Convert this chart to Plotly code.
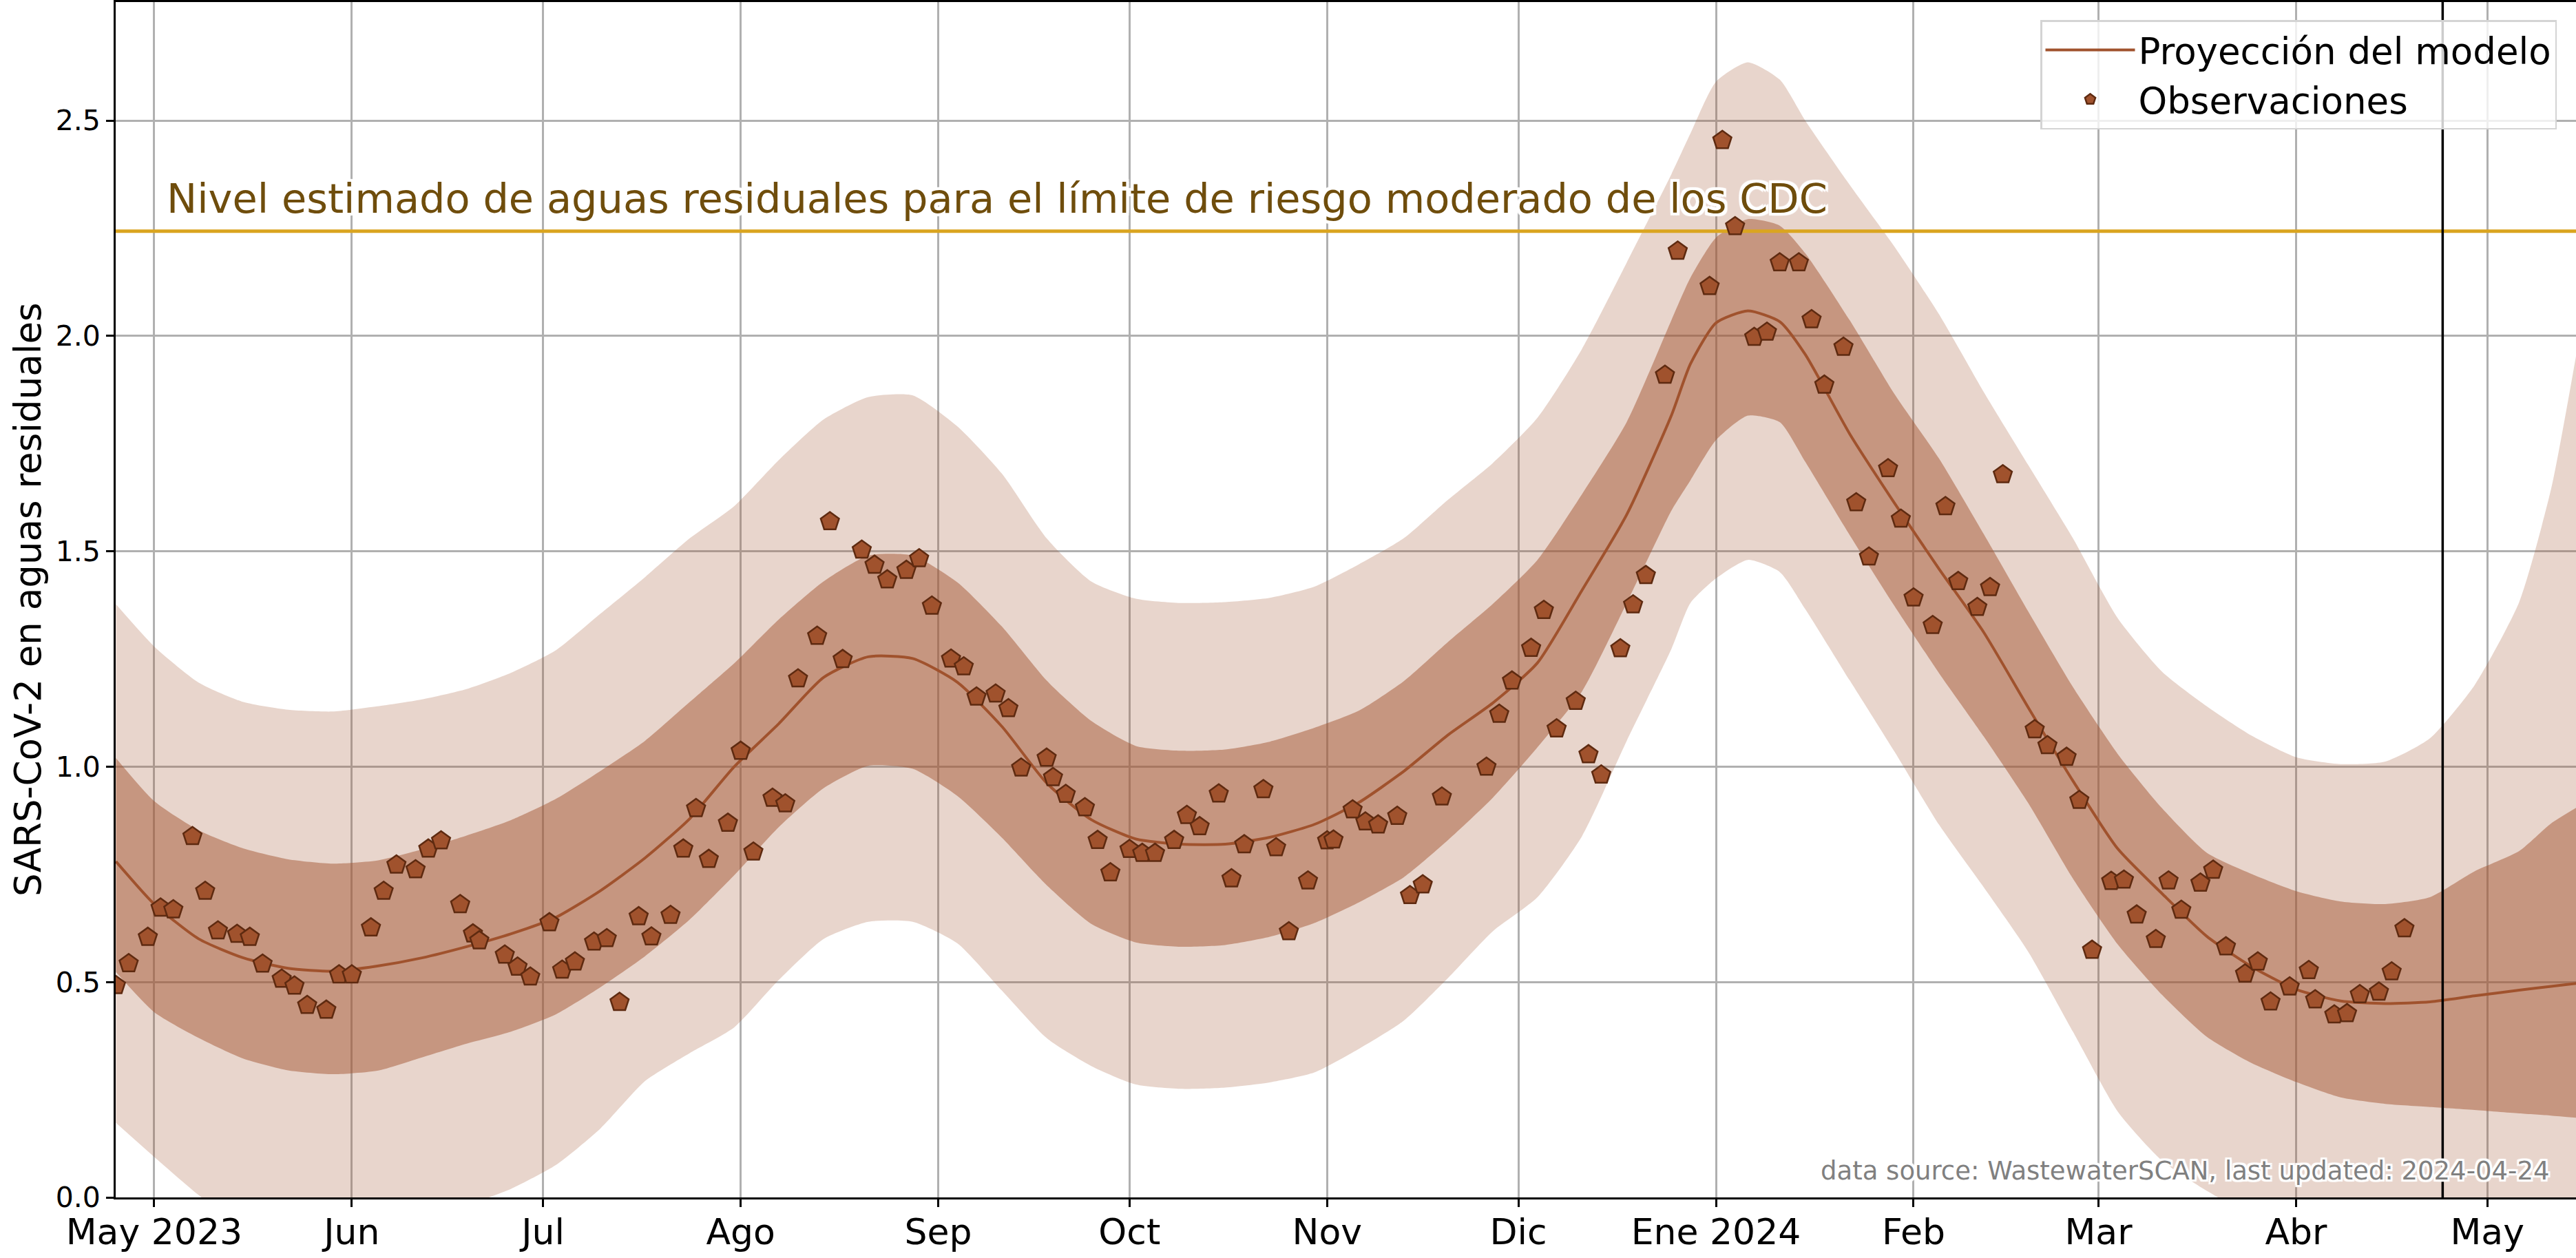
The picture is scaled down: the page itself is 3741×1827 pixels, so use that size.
import plotly.graph_objects as go

# ---------------- data ----------------
model_dates = [
    "2023-04-25", "2023-05-01", "2023-05-08", "2023-05-15", "2023-05-22", "2023-05-29",
    "2023-06-05", "2023-06-12", "2023-06-19", "2023-06-26", "2023-07-03", "2023-07-10",
    "2023-07-17", "2023-07-24", "2023-07-31", "2023-08-07", "2023-08-14", "2023-08-21",
    "2023-08-28", "2023-09-04", "2023-09-11", "2023-09-18", "2023-09-25", "2023-10-02",
    "2023-10-09", "2023-10-16", "2023-10-23", "2023-10-30", "2023-11-06", "2023-11-13",
    "2023-11-20", "2023-11-27", "2023-12-04", "2023-12-11", "2023-12-18", "2023-12-25",
    "2023-12-28", "2024-01-01", "2024-01-06", "2024-01-11", "2024-01-15", "2024-01-22",
    "2024-01-29", "2024-02-05", "2024-02-12", "2024-02-19", "2024-02-26", "2024-03-04",
    "2024-03-11", "2024-03-18", "2024-03-25", "2024-04-01", "2024-04-08", "2024-04-15",
    "2024-04-22", "2024-04-29", "2024-05-06", "2024-05-11", "2024-05-15",
]
model_median = [
    0.780, 0.681, 0.600, 0.556, 0.532, 0.525,
    0.537, 0.556, 0.582, 0.612, 0.650, 0.712,
    0.788, 0.879, 1.000, 1.100, 1.207, 1.255,
    1.251, 1.196, 1.093, 0.962, 0.877, 0.832,
    0.820, 0.820, 0.836, 0.866, 0.917, 0.989,
    1.074, 1.148, 1.241, 1.410, 1.585, 1.815,
    1.935, 2.030, 2.058, 2.033, 1.957, 1.772,
    1.612, 1.459, 1.312, 1.137, 0.967, 0.810,
    0.705, 0.606, 0.536, 0.483, 0.456, 0.450,
    0.454, 0.468, 0.481, 0.490, 0.497,
]
inner_hi = [
    1.020, 0.920, 0.852, 0.810, 0.785, 0.775,
    0.782, 0.808, 0.840, 0.876, 0.925, 0.990,
    1.060, 1.150, 1.240, 1.342, 1.430, 1.490,
    1.490, 1.428, 1.325, 1.200, 1.106, 1.048,
    1.037, 1.040, 1.058, 1.090, 1.130, 1.198,
    1.290, 1.378, 1.480, 1.633, 1.800, 2.036,
    2.135, 2.228, 2.271, 2.256, 2.192, 2.036,
    1.865, 1.715, 1.540, 1.360, 1.185, 1.030,
    0.903, 0.800, 0.751, 0.711, 0.687, 0.681,
    0.697, 0.757, 0.804, 0.868, 0.905,
]
inner_lo = [
    0.523, 0.430, 0.370, 0.322, 0.295, 0.286,
    0.294, 0.325, 0.357, 0.385, 0.425, 0.488,
    0.560, 0.645, 0.748, 0.860, 0.950, 1.002,
    0.995, 0.932, 0.835, 0.725, 0.635, 0.592,
    0.582, 0.586, 0.605, 0.637, 0.685, 0.743,
    0.830, 0.928, 1.045, 1.175, 1.380, 1.594,
    1.665, 1.758, 1.815, 1.800, 1.708, 1.537,
    1.373, 1.217, 1.070, 0.915, 0.740, 0.588,
    0.470, 0.373, 0.312, 0.268, 0.232, 0.217,
    0.210, 0.203, 0.195, 0.190, 0.185,
]
outer_hi = [
    1.377, 1.279, 1.195, 1.150, 1.132, 1.128,
    1.140, 1.156, 1.180, 1.218, 1.270, 1.355,
    1.440, 1.530, 1.605, 1.712, 1.806, 1.858,
    1.862, 1.790, 1.680, 1.530, 1.430, 1.390,
    1.380, 1.382, 1.392, 1.418, 1.470, 1.530,
    1.620, 1.705, 1.810, 1.970, 2.170, 2.375,
    2.470, 2.590, 2.635, 2.595, 2.500, 2.350,
    2.207, 2.050, 1.870, 1.700, 1.530, 1.345,
    1.220, 1.140, 1.072, 1.022, 1.006, 1.012,
    1.066, 1.189, 1.382, 1.644, 1.960,
]
outer_lo = [
    0.173, 0.094, 0.005, -0.070, -0.110, -0.125,
    -0.110, -0.075, -0.020, 0.020, 0.075, 0.160,
    0.270, 0.335, 0.395, 0.505, 0.600, 0.640,
    0.640, 0.590, 0.480, 0.370, 0.305, 0.262,
    0.252, 0.255, 0.267, 0.290, 0.345, 0.410,
    0.510, 0.618, 0.697, 0.839, 1.060, 1.273,
    1.380, 1.437, 1.480, 1.452, 1.366, 1.200,
    1.035, 0.865, 0.720, 0.570, 0.385, 0.200,
    0.085, 0.015, -0.040, -0.070, -0.090, -0.100,
    -0.110, -0.120, -0.130, -0.140, -0.150,
]

obs_dates = [
    "2023-04-25", "2023-04-27", "2023-04-30", "2023-05-02", "2023-05-04", "2023-05-07",
    "2023-05-09", "2023-05-11", "2023-05-14", "2023-05-16", "2023-05-18", "2023-05-21",
    "2023-05-23", "2023-05-25", "2023-05-28", "2023-05-30", "2023-06-01", "2023-06-04",
    "2023-06-06", "2023-06-08", "2023-06-11", "2023-06-13", "2023-06-15", "2023-06-18",
    "2023-06-20", "2023-06-21", "2023-06-25", "2023-06-27", "2023-06-29", "2023-07-02",
    "2023-07-04", "2023-07-06", "2023-07-09", "2023-07-11", "2023-07-13", "2023-07-16",
    "2023-07-18", "2023-07-21", "2023-07-23", "2023-07-25", "2023-07-27", "2023-07-30",
    "2023-08-01", "2023-08-03", "2023-08-06", "2023-08-08", "2023-08-10", "2023-08-13",
    "2023-08-15", "2023-08-17", "2023-08-20", "2023-08-22", "2023-08-24", "2023-08-27",
    "2023-08-29", "2023-08-31", "2023-09-03", "2023-09-05", "2023-09-07", "2023-09-10",
    "2023-09-12", "2023-09-14", "2023-09-18", "2023-09-19", "2023-09-21", "2023-09-24",
    "2023-09-26", "2023-09-28", "2023-10-01", "2023-10-03", "2023-10-05", "2023-10-08",
    "2023-10-10", "2023-10-12", "2023-10-15", "2023-10-17", "2023-10-19", "2023-10-22",
    "2023-10-24", "2023-10-26", "2023-10-29", "2023-11-01", "2023-11-02", "2023-11-05",
    "2023-11-07", "2023-11-09", "2023-11-12", "2023-11-14", "2023-11-16", "2023-11-19",
    "2023-11-26", "2023-11-28", "2023-11-30", "2023-12-03", "2023-12-05", "2023-12-07",
    "2023-12-10", "2023-12-12", "2023-12-14", "2023-12-17", "2023-12-19", "2023-12-21",
    "2023-12-24", "2023-12-26", "2023-12-31", "2024-01-02", "2024-01-04", "2024-01-07",
    "2024-01-09", "2024-01-11", "2024-01-14", "2024-01-16", "2024-01-18", "2024-01-21",
    "2024-01-23", "2024-01-25", "2024-01-28", "2024-01-30", "2024-02-01", "2024-02-04",
    "2024-02-06", "2024-02-08", "2024-02-11", "2024-02-13", "2024-02-15", "2024-02-20",
    "2024-02-22", "2024-02-25", "2024-02-27", "2024-02-29", "2024-03-03", "2024-03-05",
    "2024-03-07", "2024-03-10", "2024-03-12", "2024-03-14", "2024-03-17", "2024-03-19",
    "2024-03-21", "2024-03-24", "2024-03-26", "2024-03-28", "2024-03-31", "2024-04-03",
    "2024-04-04", "2024-04-07", "2024-04-09", "2024-04-11", "2024-04-14", "2024-04-16",
    "2024-04-18",
]
obs_values = [
    0.492, 0.543, 0.604, 0.672, 0.668, 0.838,
    0.711, 0.619, 0.611, 0.604, 0.542, 0.507,
    0.491, 0.446, 0.435, 0.517, 0.517, 0.626,
    0.711, 0.772, 0.761, 0.809, 0.828, 0.680,
    0.612, 0.596, 0.563, 0.535, 0.512, 0.638,
    0.528, 0.547, 0.593, 0.601, 0.453, 0.652,
    0.605, 0.655, 0.809, 0.903, 0.785, 0.869,
    1.036, 0.802, 0.927, 0.914, 1.204, 1.303,
    1.569, 1.249, 1.503, 1.468, 1.434, 1.456,
    1.483, 1.373, 1.250, 1.232, 1.162, 1.169,
    1.135, 0.997, 1.020, 0.975, 0.936, 0.905,
    0.829, 0.754, 0.808, 0.799, 0.799, 0.829,
    0.887, 0.861, 0.937, 0.740, 0.819, 0.947,
    0.812, 0.617, 0.735, 0.828, 0.830, 0.900,
    0.872, 0.865, 0.885, 0.701, 0.726, 0.930,
    0.999, 1.122, 1.199, 1.275, 1.363, 1.088,
    1.152, 1.028, 0.981, 1.274, 1.376, 1.444,
    1.909, 2.197, 2.115, 2.454, 2.254, 1.997,
    2.009, 2.170, 2.170, 2.038, 1.886, 1.974,
    1.613, 1.487, 1.692, 1.575, 1.392, 1.328,
    1.604, 1.430, 1.370, 1.416, 1.678, 1.086,
    1.049, 1.022, 0.922, 0.574, 0.734, 0.737,
    0.656, 0.599, 0.735, 0.667, 0.730, 0.760,
    0.582, 0.519, 0.547, 0.454, 0.489, 0.527,
    0.459, 0.424, 0.427, 0.471, 0.477, 0.524,
    0.624,
]

threshold_value = 2.243
forecast_date = "2024-04-24"
x_range = ["2023-04-24 23:00", "2024-05-14 22:00"]
y_range = [0, 2.775]

x_tick_dates = [
    "2023-05-01", "2023-06-01", "2023-07-01", "2023-08-01", "2023-09-01", "2023-10-01",
    "2023-11-01", "2023-12-01", "2024-01-01", "2024-02-01", "2024-03-01", "2024-04-01",
    "2024-05-01",
]
x_tick_labels = ["May 2023", "Jun", "Jul", "Ago", "Sep", "Oct", "Nov", "Dic",
                 "Ene 2024", "Feb", "Mar", "Abr", "May"]
y_tick_values = [0.0, 0.5, 1.0, 1.5, 2.0, 2.5]
y_tick_labels = ["0.0", "0.5", "1.0", "1.5", "2.0", "2.5"]

threshold_text = "Nivel estimado de aguas residuales para el límite de riesgo moderado de los CDC"
source_text = "data source: WastewaterSCAN, last updated: 2024-04-24"
y_title = "SARS-CoV-2 en aguas residuales"

# ---------------- styling ----------------
FONT = "DejaVu Sans"
SIENNA = "#a0522d"
EDGE = "#5e2a10"
W, H = 3741, 1827
ML, MR, MT, MB = 168, 0, 3, 88
PW = W - ML - MR
PH = H - MT - MB


def halo(px, color="white"):
    offs = [(px, 0), (-px, 0), (0, px), (0, -px), (px, px), (-px, -px), (px, -px), (-px, px)]
    return ", ".join(f"{color} {a}px {b}px 1px" for a, b in offs)


fig = go.Figure()

# outer band
fig.add_trace(go.Scatter(x=model_dates, y=outer_lo, mode="lines",
                         line=dict(width=0, shape="spline", smoothing=0.6),
                         showlegend=False, hoverinfo="skip"))
fig.add_trace(go.Scatter(x=model_dates, y=outer_hi, mode="lines",
                         line=dict(width=0, shape="spline", smoothing=0.6),
                         fill="tonexty", fillcolor="rgba(160,82,45,0.245)",
                         showlegend=False, hoverinfo="skip"))
# inner band
fig.add_trace(go.Scatter(x=model_dates, y=inner_lo, mode="lines",
                         line=dict(width=0, shape="spline", smoothing=0.6),
                         showlegend=False, hoverinfo="skip"))
fig.add_trace(go.Scatter(x=model_dates, y=inner_hi, mode="lines",
                         line=dict(width=0, shape="spline", smoothing=0.6),
                         fill="tonexty", fillcolor="rgba(160,82,45,0.48)",
                         showlegend=False, hoverinfo="skip"))
# median projection
fig.add_trace(go.Scatter(x=model_dates, y=model_median, mode="lines",
                         line=dict(color=SIENNA, width=4, shape="spline", smoothing=0.6),
                         name="Proyección del modelo"))
# threshold line
fig.add_trace(go.Scatter(x=x_range, y=[threshold_value, threshold_value], mode="lines",
                         line=dict(color="#daa520", width=5),
                         showlegend=False, hoverinfo="skip"))
# observations
fig.add_trace(go.Scatter(x=obs_dates, y=obs_values, mode="markers",
                         marker=dict(symbol="pentagon", size=28, color=SIENNA,
                                     line=dict(color=EDGE, width=2.5)),
                         name="Observaciones"))

# forecast date line
fig.add_shape(type="line", xref="x", yref="paper", x0=forecast_date, x1=forecast_date,
              y0=0, y1=1, line=dict(color="black", width=3.5), layer="above")

fig.add_annotation(xref="paper", yref="y", x=(240 - ML) / PW, y=2.318,
                   xanchor="left", yanchor="middle", showarrow=False,
                   text=threshold_text,
                   font=dict(family=FONT, size=59, color="#6f4d0c", shadow=halo(4)))
fig.add_annotation(xref="paper", yref="y", x=(3705 - ML) / PW, y=0.061,
                   xanchor="right", yanchor="middle", showarrow=False,
                   text=source_text,
                   font=dict(family=FONT, size=37, color="#808080", shadow=halo(3)))
fig.add_annotation(xref="paper", yref="paper", x=(40 - ML) / PW, y=0.5,
                   xanchor="center", yanchor="middle", showarrow=False, textangle=-90,
                   text=y_title, font=dict(family=FONT, size=53, color="black"))

axis_common = dict(showgrid=True, gridcolor="#b0b0b0", gridwidth=2.5,
                   showline=True, linecolor="black", linewidth=2.7,
                   ticks="outside", ticklen=11, tickwidth=2.7, tickcolor="black",
                   zeroline=False, automargin=False)

fig.update_layout(
    width=W, height=H,
    template="none",
    paper_bgcolor="white", plot_bgcolor="white",
    margin=dict(l=ML, r=MR, t=MT, b=MB, pad=0),
    font=dict(family=FONT, color="black"),
    xaxis=dict(type="date", range=x_range, tickmode="array",
               tickvals=x_tick_dates, ticktext=x_tick_labels,
               tickfont=dict(family=FONT, size=52, color="black"),
               ticklabelstandoff=-8,
               mirror=True, **axis_common),
    yaxis=dict(range=y_range, tickmode="array", tickvals=y_tick_values,
               ticktext=y_tick_labels, tickfont=dict(family=FONT, size=41, color="black"),
               mirror=False, **axis_common),
    legend=dict(x=(3713 - ML) / PW, y=1 - (29 - MT) / PH, xanchor="right", yanchor="top",
                bgcolor="rgba(255,255,255,0.8)", bordercolor="#d4d4d4", borderwidth=2.5,
                font=dict(family=FONT, size=53, color="black"), itemwidth=130,
                traceorder="normal", tracegroupgap=0),
    showlegend=True,
)

fig.write_html("out.html", config={"displayModeBar": False},
               post_script="document.body.style.margin='0';document.body.style.overflow='hidden';")
